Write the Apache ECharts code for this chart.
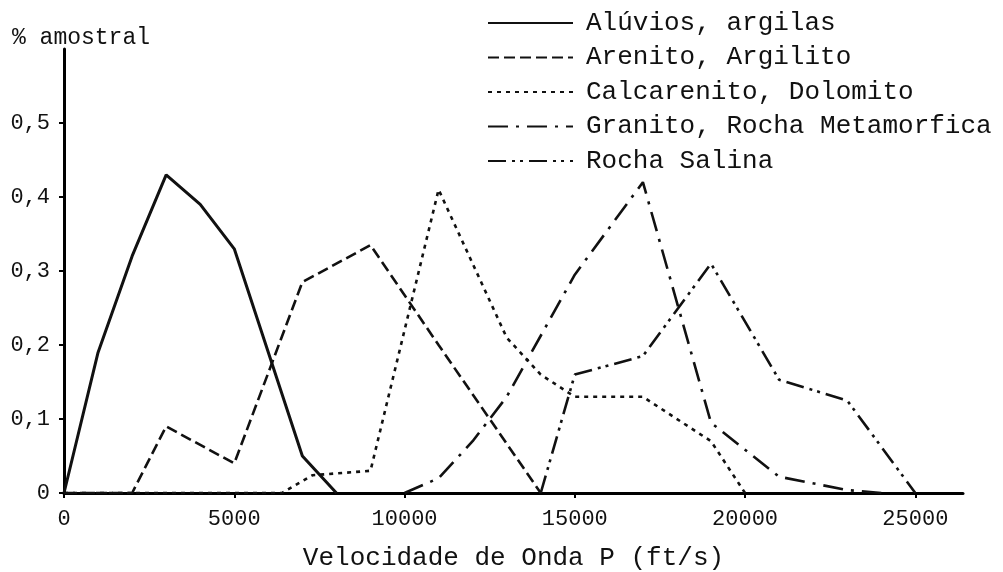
<!DOCTYPE html>
<html>
<head>
<meta charset="utf-8">
<script src="https://cdn.jsdelivr.net/npm/echarts@6/dist/echarts.min.js"></script>
<style>
  html, body { margin: 0; padding: 0; background: #fff; }
  #chart { width: 1003px; height: 572px; }
</style>
</head>
<body>
<div id="chart"></div>
<script>
// velocidade (ft/s), fracao amostral
const aluviosData = [[0, 0], [1000, 0.19], [2000, 0.32], [3000, 0.43], [4000, 0.39], [5000, 0.33], [7000, 0.05], [8000, 0]];
const arenitoData = [[0, 0], [2000, 0], [3000, 0.09], [5000, 0.04], [7000, 0.285], [9000, 0.335], [11000, 0.2], [14000, 0]];
const calcarenitoData = [[0, 0], [6400, 0], [7300, 0.024], [9000, 0.03], [11000, 0.41], [13000, 0.21], [14000, 0.16], [15000, 0.13], [17000, 0.13], [19000, 0.07], [20000, 0]];
const granitoData = [[10000, 0], [11000, 0.02], [12000, 0.07], [13000, 0.13], [15000, 0.295], [17000, 0.42], [19000, 0.095], [21000, 0.022], [23000, 0.004], [24000, 0]];
const salinaData = [[14000, 0], [15000, 0.16], [17000, 0.185], [19000, 0.31], [21000, 0.153], [23000, 0.125], [25000, 0]];

const seriesNames = ['Alúvios, argilas', 'Arenito, Argilito', 'Calcarenito, Dolomito', 'Granito, Rocha Metamorfica', 'Rocha Salina'];
const xTicks = [0, 5000, 10000, 15000, 20000, 25000];
const yTicks = [0, 0.1, 0.2, 0.3, 0.4, 0.5];

const mono = 'Liberation Mono';
const ink = '#111';

let chart = echarts.init(document.getElementById('chart'));

let dashes = [
  'solid',
  [11, 5],
  [4, 5],
  [20, 8, 3, 8],
  [18, 6, 3, 5, 3, 6]
];
let datasets = [aluviosData, arenitoData, calcarenitoData, granitoData, salinaData];

let series = datasets.map(function(data, i) {
  return {
    name: seriesNames[i],
    type: 'line',
    data: data,
    symbol: 'none',
    lineStyle: {
      color: ink,
      width: i === 0 ? 3 : 2.6,
      type: dashes[i]
    },
    itemStyle: {color: ink}
  };
});

chart.setOption({
  animation: false,
  backgroundColor: '#fff',
  grid: {left: 64, right: 40, top: 49, bottom: 79, outerBoundsMode: 'none'},
  legend: {
    orient: 'vertical',
    left: 487,
    top: 10,
    padding: 0,
    itemWidth: 85,
    itemHeight: 20,
    itemGap: 8.5,
    data: seriesNames,
    itemStyle: {opacity: 0},
    textStyle: {fontFamily: mono, fontSize: 26, color: ink, padding: [0, 0, 0, 8]}
  },
  xAxis: {
    type: 'value',
    min: 0,
    max: 26400,
    interval: 5000,
    name: 'Velocidade de Onda P (ft/s)',
    nameLocation: 'middle',
    nameGap: 52,
    nameTextStyle: {fontFamily: mono, fontSize: 26, color: ink},
    axisLine: {lineStyle: {color: '#000', width: 3}},
    axisTick: {show: true, length: 5, customValues: xTicks, lineStyle: {color: '#000', width: 2}},
    axisLabel: {
      customValues: xTicks,
      margin: 15,
      fontFamily: mono,
      fontSize: 22,
      color: ink,
      formatter: function(value) {
        return String(value);
      }
    },
    splitLine: {show: false}
  },
  yAxis: {
    type: 'value',
    min: 0,
    max: 0.6,
    interval: 0.1,
    name: '% amostral',
    nameLocation: 'end',
    nameGap: 0,
    nameTextStyle: {fontFamily: mono, fontSize: 23, color: ink, align: 'left', padding: [0, 0, 0, -52]},
    axisLine: {show: true, lineStyle: {color: '#000', width: 3}},
    axisTick: {show: true, length: 5, customValues: yTicks, lineStyle: {color: '#000', width: 2}},
    axisLabel: {
      customValues: yTicks,
      margin: 14,
      fontFamily: mono,
      fontSize: 22,
      color: ink,
      formatter: function(value) {
        return String(Math.round(value * 10) / 10).replace('.', ',');
      }
    },
    splitLine: {show: false}
  },
  series: series
});
</script>
</body>
</html>
